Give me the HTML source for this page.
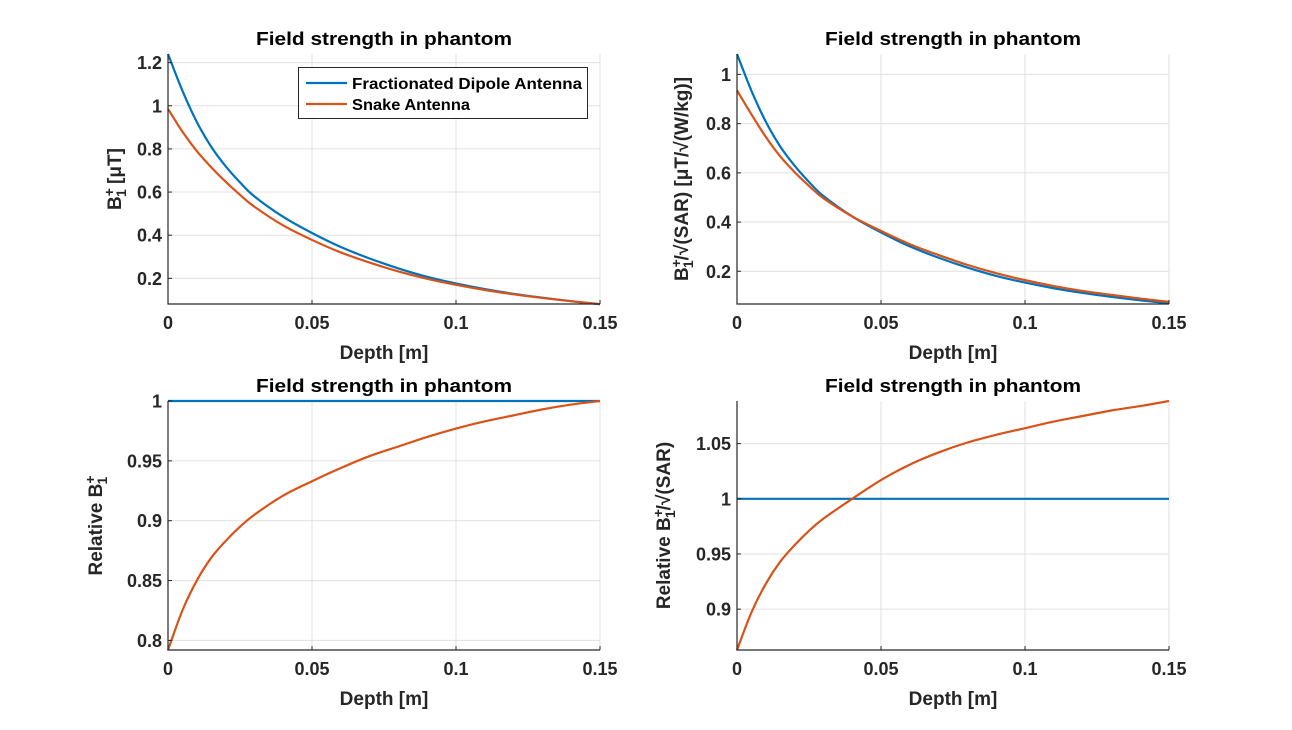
<!DOCTYPE html>
<html><head><meta charset="utf-8"><style>
html,body{margin:0;padding:0;background:#fff;}
svg{display:block;font-family:"Liberation Sans",Arial,sans-serif;font-weight:bold;}
</style></head><body>
<svg id="fig" width="1292" height="730" viewBox="0 0 1292 730" xmlns="http://www.w3.org/2000/svg"></svg>
<script>
const depth = [0,0.005,0.01,0.015,0.02,0.025,0.03,0.04,0.05,0.06,0.07,0.08,0.09,0.1,0.11,0.12,0.13,0.14,0.15];
const b1Dipole = [1.24,1.07,0.925,0.81,0.72,0.645,0.58,0.485,0.41,0.345,0.292,0.246,0.207,0.176,0.15,0.128,0.11,0.094,0.08];
const b1Snake = [0.986,0.88,0.79,0.715,0.648,0.587,0.532,0.445,0.378,0.32,0.273,0.232,0.198,0.17,0.146,0.126,0.109,0.094,0.08];
const sarDipole = [1.083,0.934,0.808,0.707,0.629,0.563,0.506,0.423,0.358,0.301,0.255,0.215,0.181,0.154,0.131,0.112,0.096,0.082,0.07];
const sarSnake = [0.935,0.838,0.746,0.667,0.603,0.547,0.497,0.423,0.364,0.31,0.266,0.226,0.192,0.164,0.14,0.12,0.104,0.089,0.076];
const relB1Dipole = [1,1,1,1,1,1,1,1,1,1,1,1,1,1,1,1,1,1,1];
const relB1Snake = [0.792,0.825,0.85,0.869,0.883,0.895,0.905,0.921,0.933,0.944,0.954,0.962,0.97,0.977,0.983,0.988,0.993,0.997,1.0];
const relSarDipole = [1,1,1,1,1,1,1,1,1,1,1,1,1,1,1,1,1,1,1];
const relSarSnake = [0.863,0.897,0.923,0.943,0.958,0.971,0.982,1.0,1.017,1.031,1.042,1.051,1.058,1.064,1.07,1.075,1.08,1.084,1.0886];
const xTicks = [0,0.05,0.1,0.15];
const xTickLabels = ["0","0.05","0.1","0.15"];
const yTicksTL = [0.2,0.4,0.6,0.8,1,1.2];
const yTicksTR = [0.2,0.4,0.6,0.8,1];
const yTicksBL = [0.8,0.85,0.9,0.95,1];
const yTicksBR = [0.9,0.95,1,1.05];
const legendLabels = ["Fractionated Dipole Antenna","Snake Antenna"];

const NS = "http://www.w3.org/2000/svg";
const svg = document.getElementById('fig');
const BLUE = "#0072BD", ORANGE = "#D95319";
function mk(tag, attrs, parent){
  const e = document.createElementNS(NS, tag);
  for (const k in attrs) e.setAttribute(k, attrs[k]);
  (parent||svg).appendChild(e);
  return e;
}
function panel(opt){
  const g = mk('g', {});
  
  
  const L=opt.L, R=opt.R, T=opt.T, B=opt.B;
  const sx = v => L + (v - 0) / 0.15 * (R - L);
  const sy = v => B - (v - opt.ymin) / (opt.ymax - opt.ymin) * (B - T);
  xTicks.forEach((t,i)=>{
    if (i===0) return;
    const gl = mk('line', {x1:sx(t),x2:sx(t),y1:T,y2:B,stroke:"#e0e0e0","stroke-width":1}, g);
    
    
  });
  opt.yticks.forEach(t=>{
    const gl = mk('line', {x1:L,x2:R,y1:sy(t),y2:sy(t),stroke:"#e0e0e0","stroke-width":1}, g);
    
    
  });
  opt.series.forEach(s=>{
    const pts = depth.map((x,i)=>[sx(x), sy(s.data[i])]);
    let d = "M"+pts[0][0]+","+pts[0][1];
    for (let i=0;i<pts.length-1;i++){
      const p0=pts[Math.max(0,i-1)], p1=pts[i], p2=pts[i+1], p3=pts[Math.min(pts.length-1,i+2)];
      const c1x=p1[0]+(p2[0]-p0[0])/6, c1y=p1[1]+(p2[1]-p0[1])/6;
      const c2x=p2[0]-(p3[0]-p1[0])/6, c2y=p2[1]-(p3[1]-p1[1])/6;
      d += " C"+c1x+","+c1y+" "+c2x+","+c2y+" "+p2[0]+","+p2[1];
    }
    const p = mk('path', {d:d, fill:"none", stroke:s.color, "stroke-width":2.2}, g);
    
    
  });
  const ax = mk('path', {d:`M${L},${T} L${L},${B} L${R},${B}`, fill:"none", stroke:"#262626","stroke-width":1.2}, g);
  
  
  xTicks.forEach((t,i)=>{
    mk('line',{x1:sx(t),x2:sx(t),y1:B,y2:B-4,stroke:"#262626"},g);
    const tx = mk('text',{x:sx(t),y:B+25,"text-anchor":"middle","font-size":18,fill:"#262626"},g);
    tx.textContent = xTickLabels[i];
    
    
  });
  opt.yticks.forEach(t=>{
    mk('line',{x1:L,x2:L+4,y1:sy(t),y2:sy(t),stroke:"#262626"},g);
    const tx = mk('text',{x:L-6,y:sy(t)+6.5,"text-anchor":"end","font-size":18,fill:"#262626"},g);
    tx.textContent = String(t);
    
    
  });
  const title = mk('text',{x:(L+R)/2,y:T-9,"text-anchor":"middle","font-size":18,fill:"#000",textLength:256,lengthAdjust:"spacingAndGlyphs"},g);
  title.textContent = "Field strength in phantom";
  
  
  const xl = mk('text',{x:(L+R)/2,y:B+55,"text-anchor":"middle","font-size":19,fill:"#262626"},g);
  xl.textContent = "Depth [m]";
  
  
  const yl = mk('text',{transform:`translate(${opt.ylx},${(T+B)/2}) rotate(-90)`,"text-anchor":"middle","font-size":19,fill:"#262626"},g);
  
  
  yl.innerHTML = opt.ylabel;
  return {sx, sy, g};
}
const B1 = 'B<tspan font-size="14" dy="-7">+</tspan><tspan font-size="14" dx="-9" dy="12">1</tspan><tspan dy="-5">';
panel({name:'panel-b1', L:168, R:600, T:54, B:304, ymin:0.081, ymax:1.24, yticks:yTicksTL, ylx:121,
  ylabel: B1 + ' [μT]</tspan>',
  series:[{name:'dipole-line',color:BLUE,data:b1Dipole},{name:'snake-line',color:ORANGE,data:b1Snake}]});
panel({name:'panel-b1-sar', L:737, R:1169, T:54, B:304, ymin:0.067, ymax:1.083, yticks:yTicksTR, ylx:688,
  ylabel: B1 + '/√(SAR) [μT/√(W/kg)]</tspan>',
  series:[{name:'dipole-line',color:BLUE,data:sarDipole},{name:'snake-line',color:ORANGE,data:sarSnake}]});
panel({name:'panel-relative-b1', L:168, R:600, T:401, B:650, ymin:0.792, ymax:1.0, yticks:yTicksBL, ylx:102,
  ylabel: 'Relative ' + B1 + '</tspan>',
  series:[{name:'dipole-line',color:BLUE,data:relB1Dipole},{name:'snake-line',color:ORANGE,data:relB1Snake}]});
panel({name:'panel-relative-b1-sar', L:737, R:1169, T:401, B:650, ymin:0.863, ymax:1.0886, yticks:yTicksBR, ylx:670,
  ylabel: 'Relative ' + B1 + '/√(SAR)</tspan>',
  series:[{name:'dipole-line',color:BLUE,data:relSarDipole},{name:'snake-line',color:ORANGE,data:relSarSnake}]});

const lg = mk('g',{});


mk('rect',{x:298.5,y:67.5,width:289,height:51,fill:"#fff",stroke:"#262626","stroke-width":1},lg);
[BLUE,ORANGE].forEach((c,i)=>{
  const y = i===0?83:104;
  const ln = mk('line',{x1:306,x2:347,y1:y,y2:y,stroke:c,"stroke-width":2.2},lg);
  
  
  const t = mk('text',{x:352,y:y+6,"font-size":16,fill:"#000"},lg);
  if (i===0){ t.setAttribute('textLength',230); t.setAttribute('lengthAdjust','spacingAndGlyphs'); }
  else { t.setAttribute('textLength',118); t.setAttribute('lengthAdjust','spacingAndGlyphs'); }
  t.textContent = legendLabels[i];
  
  
});
</script>
</body></html>
